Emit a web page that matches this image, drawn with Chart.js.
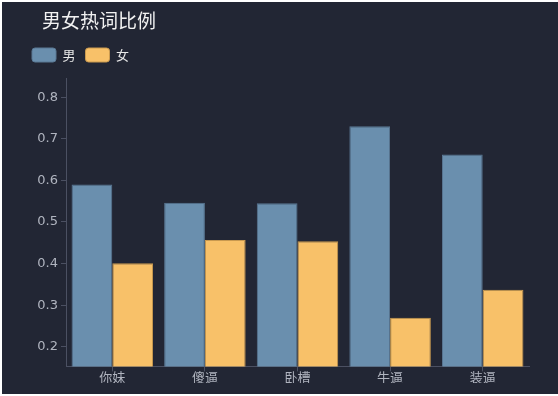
<!DOCTYPE html>
<html>
<head>
<meta charset="utf-8">
<script src="https://cdn.jsdelivr.net/npm/chart.js@4/dist/chart.umd.min.js"></script>
<style>
  html, body { margin: 0; padding: 0; background: #ffffff; }
  #wrap { position: absolute; left: 2px; top: 2px; width: 556px; height: 392px; background: #222634; }
</style>
</head>
<body>
<div id="wrap"><canvas id="chart"></canvas></div>
<script>
const categories = ['你妹', '傻逼', '卧槽', '牛逼', '装逼'];
const maleValues = [0.590, 0.546, 0.545, 0.730, 0.662];
const femaleValues = [0.401, 0.457, 0.454, 0.270, 0.337];
const yTicks = [0.2, 0.3, 0.4, 0.5, 0.6, 0.7, 0.8];
const chartTitle = '男女热词比例';

const axisColor = '#4b5062';
const labelColor = '#b0b4bf';
const cjkFont = "'Microsoft YaHei', 'Noto Sans CJK SC', sans-serif";
const numFont = "Tahoma, 'DejaVu Sans', sans-serif";

// title drawn by hand so it can sit indented like the original
const titlePlugin = {
    id: 'leftTitle',
    afterDraw(chart) {
        const c = chart.ctx;
        c.save();
        c.fillStyle = '#f2f2f2';
        c.font = "19px " + cjkFont;
        c.textBaseline = 'middle';
        c.fillText(chartTitle, 40, 19);
        c.restore();
    }
};

// extra space under the legend
const legendGap = {
    id: 'legendGap',
    beforeLayout(chart) {
        const lg = chart.legend;
        if (lg && !lg._gapPatched) {
            const fit = lg.fit;
            lg.fit = function () { fit.call(this); this.height += 6; };
            lg._gapPatched = true;
        }
    }
};

const ctx = document.getElementById('chart').getContext('2d');

new Chart(ctx, {
    type: 'bar',
    data: {
        labels: categories,
        datasets: [
            {
                label: '男',
                data: maleValues,
                backgroundColor: '#6a8fae',
                borderColor: '#5a7894',
                borderWidth: 1,
                categoryPercentage: 0.88,
                barPercentage: 1.0
            },
            {
                label: '女',
                data: femaleValues,
                backgroundColor: '#f8c169',
                borderColor: '#c9994f',
                borderWidth: 1,
                categoryPercentage: 0.88,
                barPercentage: 1.0
            }
        ]
    },
    options: {
        responsive: true,
        maintainAspectRatio: false,
        animation: false,
        layout: { padding: { left: 20, right: 29, top: 36, bottom: 11 } },
        plugins: {
            title: { display: false },
            legend: {
                align: 'start',
                labels: {
                    color: '#e8e8e8',
                    font: { family: cjkFont, size: 13 },
                    boxWidth: 24,
                    boxHeight: 14,
                    useBorderRadius: true,
                    borderRadius: 3,
                    padding: 10
                }
            },
            tooltip: { enabled: false }
        },
        scales: {
            x: {
                grid: { display: true, offset: false, drawOnChartArea: false, tickLength: 5, color: axisColor },
                border: { color: axisColor },
                ticks: { color: labelColor, font: { family: cjkFont, size: 13 }, padding: -2 }
            },
            y: {
                min: 0.153,
                max: 0.846,
                afterBuildTicks: scale => { scale.ticks = yTicks.map(v => ({ value: v })); },
                afterFit: scale => { scale.width = 44; },
                grid: { display: true, drawOnChartArea: false, tickLength: 5, color: axisColor },
                border: { color: axisColor },
                ticks: { color: labelColor, font: { family: numFont, size: 13 }, padding: 3,
                    callback: v => v.toFixed(1) }
            }
        }
    },
    plugins: [titlePlugin, legendGap]
});
</script>
</body>
</html>
